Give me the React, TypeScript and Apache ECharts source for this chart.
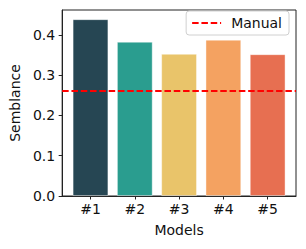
import React, { useEffect, useRef } from "react";
import * as echarts from "echarts";

const categories = ["#1", "#2", "#3", "#4", "#5"];
const semblance = [0.439, 0.383, 0.353, 0.388, 0.352];
const barColors = ["#264653", "#2A9D8F", "#E9C46A", "#F4A261", "#E76F51"];
const manualValue = 0.261;
const yTicks = [0, 0.1, 0.2, 0.3, 0.4];
const xTicks = [0, 1, 2, 3, 4];

const FONT = "DejaVu Sans";
const FS = 14;

export default function App() {
  const ref = useRef<HTMLDivElement>(null);
  useEffect(() => {
    document.body.style.margin = "0";
    if (!ref.current) return;
    const chart = echarts.init(ref.current, null, { renderer: "svg" });
    const xMin = -0.64;
    const xMax = 4.64;
    chart.setOption({
      animation: false,
      backgroundColor: "#fff",
      textStyle: { fontFamily: FONT },
      grid: {
        left: 61,
        right: 10,
        top: 10,
        bottom: 53,
        show: true,
        borderColor: "#222",
        borderWidth: 1,
        backgroundColor: "transparent",
      },
      legend: {
        right: 17,
        top: 11,
        data: ["Manual"],
        backgroundColor: "#fff",
        borderColor: "#d0d0d0",
        borderWidth: 1,
        borderRadius: 3,
        padding: [5, 7, 5, 5],
        itemWidth: 29,
        itemHeight: 12,
        itemGap: 0,
        itemStyle: { opacity: 0 },
        textStyle: { fontFamily: FONT, fontSize: FS, color: "#111", padding: [0, 0, 0, 5] },
      },
      xAxis: {
        type: "value",
        min: xMin,
        max: xMax,
        name: "Models",
        nameLocation: "middle",
        nameGap: 27,
        nameTextStyle: { fontFamily: FONT, fontSize: FS, color: "#111" },
        splitLine: { show: false },
        axisLine: { show: true, onZero: false, lineStyle: { color: "#222", width: 1 } },
        axisTick: {
          show: true,
          length: 3.5,
          lineStyle: { color: "#222", width: 1 },
          customValues: xTicks,
        },
        axisLabel: {
          customValues: xTicks,
          formatter: (v: number) => categories[Math.round(v)] ?? "",
          fontFamily: FONT,
          fontSize: FS,
          color: "#111",
          margin: 6,
        },
      },
      yAxis: {
        type: "value",
        min: 0,
        max: 0.462,
        interval: 0.1,
        name: "Semblance",
        nameLocation: "middle",
        nameGap: 35,
        nameTextStyle: { fontFamily: FONT, fontSize: FS, color: "#111" },
        splitLine: { show: false },
        axisLine: { show: true, onZero: false, lineStyle: { color: "#222", width: 1 } },
        axisTick: {
          show: true,
          length: 3.5,
          lineStyle: { color: "#222", width: 1 },
          customValues: yTicks,
        },
        axisLabel: {
          customValues: yTicks,
          formatter: (v: number) => v.toFixed(1),
          fontFamily: FONT,
          fontSize: FS,
          color: "#111",
          margin: 7,
        },
      },
      series: [
        {
          type: "bar",
          barWidth: 35.6,
          data: semblance.map((v, i) => ({
            value: [i, v],
            itemStyle: {
              color: barColors[i],
              borderColor: "rgba(255,255,255,0.5)",
              borderWidth: 0.8,
            },
          })),
          z: 2,
        },
        {
          type: "line",
          name: "Manual",
          data: [
            [xMin, manualValue],
            [xMax, manualValue],
          ],
          symbol: "none",
          lineStyle: { color: "#ff0000", width: 2, type: [6.5, 2.8] },
          itemStyle: { color: "#ff0000" },
          z: 3,
        },
      ],
    });
    return () => chart.dispose();
  }, []);
  return <div ref={ref} style={{ width: 306, height: 249 }} />;
}
